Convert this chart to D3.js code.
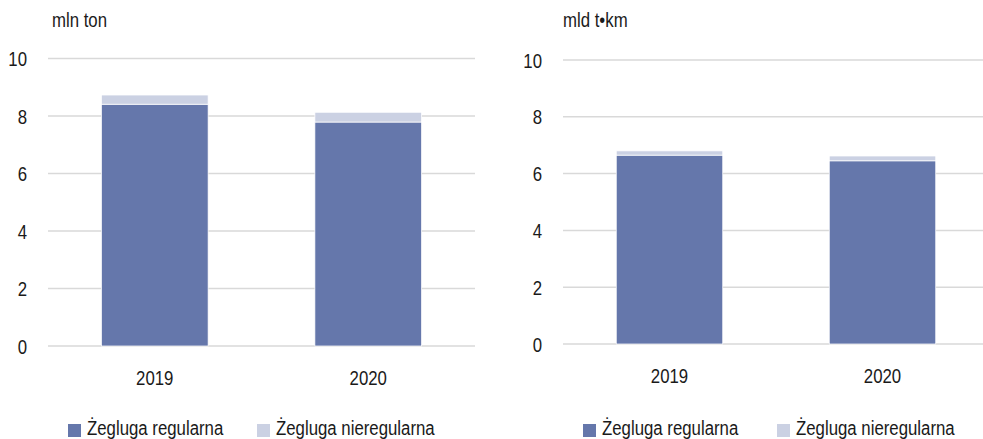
<!DOCTYPE html>
<html>
<head>
<meta charset="utf-8">
<script src="https://cdn.jsdelivr.net/npm/d3@7"></script>
<style>
  body { margin: 0; background: #fff; }
  svg text { font-family: "Liberation Sans", Arial, sans-serif; font-size: 21px; fill: #1a1a1a; }
</style>
</head>
<body>
<div id="chart"></div>
<script>
const years = ['2019', '2020'];
const seriesNames = ['Żegluga regularna', 'Żegluga nieregularna'];
const colors = ['#6577ab', '#cbd1e3'];
const yTicks = [0, 2, 4, 6, 8, 10];

// mln ton
const tonsRegular = [8.41, 7.79];
const tonsIrregular = [0.32, 0.34];
// mld t·km
const tkmRegular = [6.65, 6.45];
const tkmIrregular = [0.15, 0.17];

const width = 983, height = 439;
const narrow = 0.8; // squeeze text horizontally to mimic a condensed face

const svg = d3.select('#chart')
  .append('svg')
  .attr('width', width)
  .attr('height', height);

// text placed inside a squeezed group
function label(parent, x, y, txt, anchor) {
  return parent.append('g')
    .attr('transform', `translate(${x},${y}) scale(${narrow},1)`)
    .append('text')
    .attr('text-anchor', anchor || 'start')
    .text(txt);
}

function drawChart(opts) {
  const g = svg.append('g');

  const x = d3.scaleBand()
    .domain(years)
    .range([opts.left, opts.right])
    .paddingInner(0.5)
    .paddingOuter(0.25);

  const y = d3.scaleLinear()
    .domain([0, 10])
    .range([opts.bottom, opts.top]);

  // gridlines
  g.selectAll('.grid')
    .data(yTicks)
    .enter()
    .append('line')
    .attr('x1', opts.left)
    .attr('x2', opts.gridEnd)
    .attr('y1', d => y(d))
    .attr('y2', d => y(d))
    .attr('stroke', '#d9d9d9')
    .attr('stroke-width', 1.5);

  yTicks.forEach(d => label(g, opts.left - 21, y(d) + 7.5, d, 'end'));

  const stacked = d3.stack().keys([0, 1])(years.map((yr, i) => [opts.regular[i], opts.irregular[i]]));

  stacked.forEach((layer, k) => {
    g.selectAll('.bar' + k)
      .data(layer)
      .enter()
      .append('rect')
      .attr('x', (d, i) => x(years[i]))
      .attr('width', x.bandwidth())
      .attr('y', d => y(d[1]))
      .attr('height', d => y(d[0]) - y(d[1]))
      .attr('fill', colors[k])
      .attr('stroke', '#fff')
      .attr('stroke-width', 0.75);
  });

  years.forEach(d => label(g, x(d) + x.bandwidth() / 2, opts.bottom + 39, d, 'middle'));

  label(g, opts.unitX, 27, opts.unit);

  // legend
  seriesNames.forEach((name, i) => {
    g.append('rect')
      .attr('x', opts.legendX[i])
      .attr('y', 424)
      .attr('width', 13)
      .attr('height', 13)
      .attr('fill', colors[i]);
    label(g, opts.legendX[i] + 19, 435, name);
  });
}

drawChart({
  left: 48, right: 475, gridEnd: 475, top: 58.5, bottom: 346,
  regular: tonsRegular, irregular: tonsIrregular,
  unit: 'mln ton', unitX: 52, legendX: [68, 257]
});

drawChart({
  left: 563, right: 989, gridEnd: 983, top: 60, bottom: 344,
  regular: tkmRegular, irregular: tkmIrregular,
  unit: 'mld t•km', unitX: 563, legendX: [583, 777]
});
</script>
</body>
</html>
